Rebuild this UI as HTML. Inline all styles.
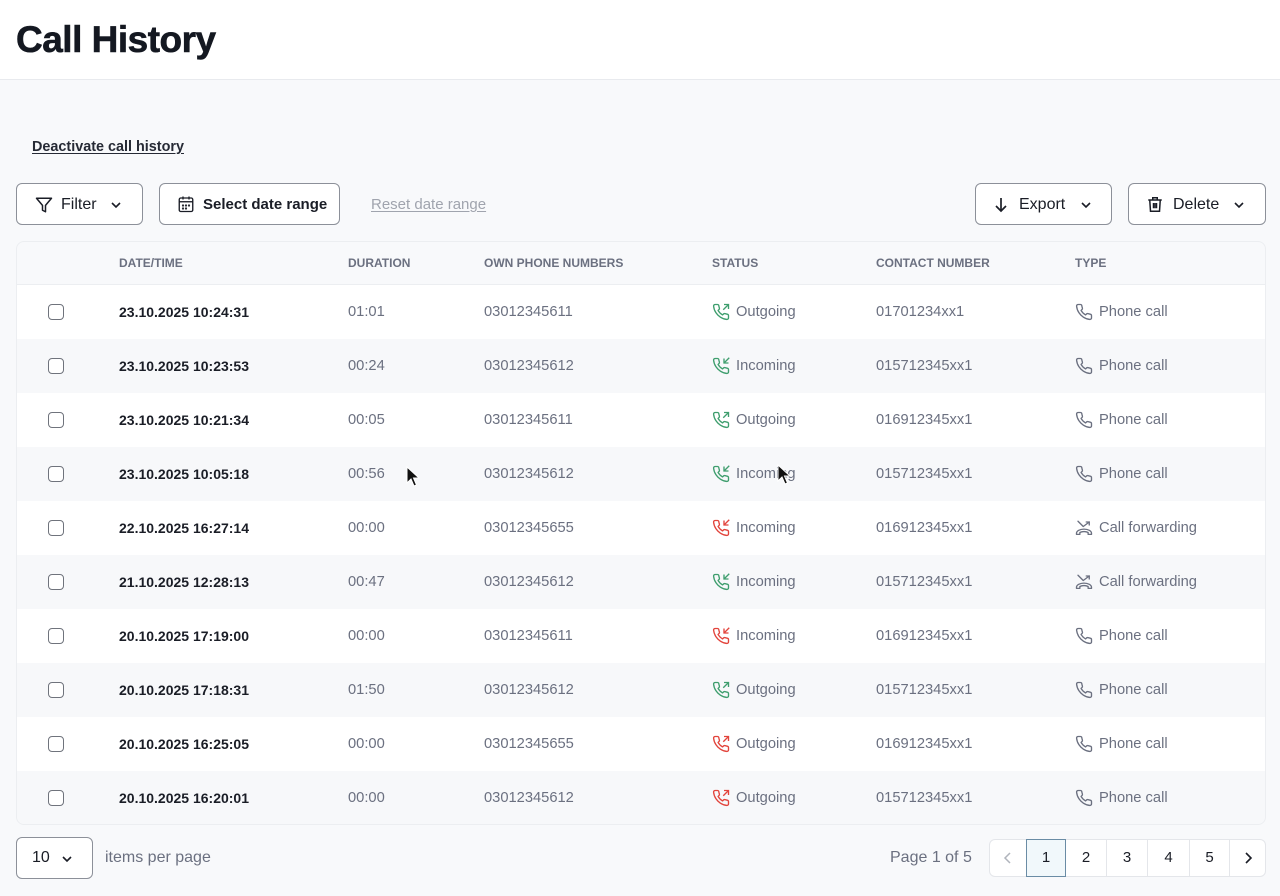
<!DOCTYPE html>
<html><head><meta charset="utf-8">
<style>
*{box-sizing:border-box;margin:0;padding:0}
body{width:1280px;height:896px;background:#f8f9fb;font-family:"Liberation Sans",sans-serif;position:relative;overflow:hidden;color:#1a1d26}
.hdr{position:absolute;left:0;top:0;width:1280px;height:80px;background:#fff;border-bottom:1px solid #e8eaee}
.title{position:absolute;left:16px;top:19px;font-size:37px;font-weight:bold;letter-spacing:-0.5px;color:#141821;-webkit-text-stroke:0.6px #141821}
.link{position:absolute;left:32px;top:139px;font-size:14.4px;font-weight:bold;color:#262a35;text-decoration:underline;text-underline-offset:2px}
.btn{position:absolute;top:183px;height:42px;background:#fff;border:1px solid #8c9099;border-radius:6px;font-size:16px;color:#1a1d26}
.btn svg{position:absolute}
.btn span{position:absolute;top:12px}
.reset{position:absolute;left:371px;top:196px;font-size:15px;color:#a0a4ae;text-decoration:underline;text-underline-offset:2px}
.card{position:absolute;left:16px;top:241px;width:1250px;height:584px;border:1px solid #eceef1;border-radius:8px;background:#f8f9fb;overflow:hidden}
.th{position:absolute;top:256px;font-size:12px;font-weight:bold;color:#6b7080}
.row{position:absolute;left:17px;width:1248px;height:54px}
.row.w{background:#fff}
.row.g{background:#f7f8fa}
.cb{position:absolute;left:31px;top:19px;width:16px;height:16px;border:1.5px solid #6f737c;border-radius:4px;background:#fff}
.c{position:absolute;top:19px;font-size:14.7px;color:#6b7080}
.d{font-weight:bold;color:#1a1d26;font-size:14px;top:19px}
.ic{position:absolute;top:18px}
.sel{position:absolute;left:16px;top:837px;width:77px;height:42px;background:#fff;border:1px solid #8c9099;border-radius:6px}
.pg{position:absolute;left:989px;top:839px;width:277px;height:38px;background:#fff;border:1px solid #e4e6ea;border-radius:6px}
.pc{position:absolute;top:0;height:36px;border-left:1px solid #e4e6ea;font-size:15px;color:#1a1d26;text-align:center;line-height:36px}
.gr{stroke:#3f9e6e}.rd{stroke:#e2443c}.gy{stroke:#6b7080}
</style></head><body>
<div class="hdr"><div class="title">Call History</div></div>
<div class="link">Deactivate call history</div>

<div class="btn" style="left:16px;width:127px">
<svg style="left:18px;top:12px" width="18" height="18" viewBox="0 0 24 24" fill="none" stroke="#1a1d26" stroke-width="2" stroke-linejoin="round"><polygon points="22 3 2 3 10 12.46 10 19 14 21 14 12.46 22 3"/></svg>
<span style="left:44px">Filter</span>
<svg style="left:93px;top:15px" width="12" height="12" viewBox="0 0 12 12" fill="none" stroke="#1a1d26" stroke-width="1.6"><polyline points="2 4 6 8 10 4"/></svg>
</div>
<div class="btn" style="left:159px;width:181px">
<svg style="left:17px;top:11px" width="18" height="18" viewBox="0 0 24 24" fill="none" stroke="#1a1d26" stroke-width="1.8"><rect x="3" y="4" width="18" height="18" rx="2"/><line x1="8" y1="2" x2="8" y2="6"/><line x1="16" y1="2" x2="16" y2="6"/><line x1="3" y1="9" x2="21" y2="9"/><circle cx="8" cy="14" r=".6"/><circle cx="12" cy="14" r=".6"/><circle cx="16" cy="14" r=".6"/><circle cx="8" cy="18" r=".6"/><circle cx="12" cy="18" r=".6"/></svg>
<span style="left:43px;font-size:15px;font-weight:bold;top:12px">Select date range</span>
</div>
<div class="reset">Reset date range</div>

<div class="btn" style="left:975px;width:137px">
<svg style="left:17px;top:12px" width="16" height="18" viewBox="0 0 16 18" fill="none" stroke="#1a1d26" stroke-width="1.7"><line x1="8" y1="2" x2="8" y2="15"/><polyline points="3 10 8 15 13 10"/></svg>
<span style="left:43px">Export</span>
<svg style="left:104px;top:15px" width="12" height="12" viewBox="0 0 12 12" fill="none" stroke="#1a1d26" stroke-width="1.6"><polyline points="2 4 6 8 10 4"/></svg>
</div>
<div class="btn" style="left:1128px;width:138px">
<svg style="left:17px;top:11px" width="18" height="19" viewBox="0 0 24 24" fill="none" stroke="#1a1d26" stroke-width="2"><path d="M3 6h18"/><path d="M9 6V3h6v3"/><path d="M5 6l1 15h12l1-15"/><line x1="10" y1="10" x2="10" y2="17"/><line x1="14" y1="10" x2="14" y2="17"/><line x1="12" y1="10" x2="12" y2="17"/></svg>
<span style="left:44px">Delete</span>
<svg style="left:104px;top:15px" width="12" height="12" viewBox="0 0 12 12" fill="none" stroke="#1a1d26" stroke-width="1.6"><polyline points="2 4 6 8 10 4"/></svg>
</div>

<div class="card"></div>
<div style="position:absolute;left:17px;top:284px;width:1248px;height:1px;background:#eceef1"></div>
<div class="th" style="left:119px">DATE/TIME</div>
<div class="th" style="left:348px">DURATION</div>
<div class="th" style="left:484px">OWN PHONE NUMBERS</div>
<div class="th" style="left:712px">STATUS</div>
<div class="th" style="left:876px">CONTACT NUMBER</div>
<div class="th" style="left:1075px">TYPE</div>

<svg width="0" height="0" style="position:absolute">
<defs>
<symbol id="ph" viewBox="0 0 24 24"><path fill="none" stroke-width="1.8" stroke-linejoin="round" d="M22 16.92v3a2 2 0 0 1-2.18 2 19.79 19.79 0 0 1-8.63-3.070 19.5 19.5 0 0 1-6-6 19.79 19.79 0 0 1-3.07-8.67A2 2 0 0 1 4.11 2h3a2 2 0 0 1 2 1.72 12.84 12.84 0 0 0 .7 2.81 2 2 0 0 1-.45 2.11L8.09 9.91a16 16 0 0 0 6 6l1.27-1.27a2 2 0 0 1 2.11-.45 12.84 12.84 0 0 0 2.81.7A2 2 0 0 1 22 16.92z"/></symbol>
<symbol id="out" viewBox="0 0 24 24"><use href="#ph"/><g fill="none" stroke-width="1.8"><polyline points="16 2 22 2 22 8"/><line x1="15" y1="9" x2="22" y2="2"/></g></symbol>
<symbol id="in" viewBox="0 0 24 24"><use href="#ph"/><g fill="none" stroke-width="1.8"><polyline points="16 2 16 8 22 8"/><line x1="23" y1="1" x2="16" y2="8"/></g></symbol>
<symbol id="fw" viewBox="0 0 24 24"><g fill="none" stroke-width="1.8" stroke-linejoin="round" stroke-linecap="round"><polyline points="4 3 11 10 19 4"/><polyline points="15 4 19 4 19 8"/><path d="M2 19c0-3 4.5-5.5 10-5.5s10 2.5 10 5.5v1.5h-4.5v-2.5c-1.5-.8-3.5-1.2-5.5-1.2s-4 .4-5.5 1.2v2.5H2z"/></g></symbol>
</defs>
</svg>

<div class="row w" style="top:285px"><div class="cb"></div><div class="c d" style="left:102px">23.10.2025 10:24:31</div><div class="c" style="left:331px">01:01</div><div class="c" style="left:467px">03012345611</div><svg class="ic gr" style="left:695px" width="18" height="18"><use href="#out"/></svg><div class="c" style="left:719px">Outgoing</div><div class="c" style="left:859px">01701234xx1</div><svg class="ic gy" style="left:1058px" width="18" height="18"><use href="#ph"/></svg><div class="c" style="left:1082px">Phone call</div></div>

<div class="row g" style="top:339px"><div class="cb"></div><div class="c d" style="left:102px">23.10.2025 10:23:53</div><div class="c" style="left:331px">00:24</div><div class="c" style="left:467px">03012345612</div><svg class="ic gr" style="left:695px" width="18" height="18"><use href="#in"/></svg><div class="c" style="left:719px">Incoming</div><div class="c" style="left:859px">015712345xx1</div><svg class="ic gy" style="left:1058px" width="18" height="18"><use href="#ph"/></svg><div class="c" style="left:1082px">Phone call</div></div>

<div class="row w" style="top:393px"><div class="cb"></div><div class="c d" style="left:102px">23.10.2025 10:21:34</div><div class="c" style="left:331px">00:05</div><div class="c" style="left:467px">03012345611</div><svg class="ic gr" style="left:695px" width="18" height="18"><use href="#out"/></svg><div class="c" style="left:719px">Outgoing</div><div class="c" style="left:859px">016912345xx1</div><svg class="ic gy" style="left:1058px" width="18" height="18"><use href="#ph"/></svg><div class="c" style="left:1082px">Phone call</div></div>

<div class="row g" style="top:447px"><div class="cb"></div><div class="c d" style="left:102px">23.10.2025 10:05:18</div><div class="c" style="left:331px">00:56</div><div class="c" style="left:467px">03012345612</div><svg class="ic gr" style="left:695px" width="18" height="18"><use href="#in"/></svg><div class="c" style="left:719px">Incoming</div><div class="c" style="left:859px">015712345xx1</div><svg class="ic gy" style="left:1058px" width="18" height="18"><use href="#ph"/></svg><div class="c" style="left:1082px">Phone call</div></div>

<div class="row w" style="top:501px"><div class="cb"></div><div class="c d" style="left:102px">22.10.2025 16:27:14</div><div class="c" style="left:331px">00:00</div><div class="c" style="left:467px">03012345655</div><svg class="ic rd" style="left:695px" width="18" height="18"><use href="#in"/></svg><div class="c" style="left:719px">Incoming</div><div class="c" style="left:859px">016912345xx1</div><svg class="ic gy" style="left:1058px" width="18" height="18"><use href="#fw"/></svg><div class="c" style="left:1082px">Call forwarding</div></div>

<div class="row g" style="top:555px"><div class="cb"></div><div class="c d" style="left:102px">21.10.2025 12:28:13</div><div class="c" style="left:331px">00:47</div><div class="c" style="left:467px">03012345612</div><svg class="ic gr" style="left:695px" width="18" height="18"><use href="#in"/></svg><div class="c" style="left:719px">Incoming</div><div class="c" style="left:859px">015712345xx1</div><svg class="ic gy" style="left:1058px" width="18" height="18"><use href="#fw"/></svg><div class="c" style="left:1082px">Call forwarding</div></div>

<div class="row w" style="top:609px"><div class="cb"></div><div class="c d" style="left:102px">20.10.2025 17:19:00</div><div class="c" style="left:331px">00:00</div><div class="c" style="left:467px">03012345611</div><svg class="ic rd" style="left:695px" width="18" height="18"><use href="#in"/></svg><div class="c" style="left:719px">Incoming</div><div class="c" style="left:859px">016912345xx1</div><svg class="ic gy" style="left:1058px" width="18" height="18"><use href="#ph"/></svg><div class="c" style="left:1082px">Phone call</div></div>

<div class="row g" style="top:663px"><div class="cb"></div><div class="c d" style="left:102px">20.10.2025 17:18:31</div><div class="c" style="left:331px">01:50</div><div class="c" style="left:467px">03012345612</div><svg class="ic gr" style="left:695px" width="18" height="18"><use href="#out"/></svg><div class="c" style="left:719px">Outgoing</div><div class="c" style="left:859px">015712345xx1</div><svg class="ic gy" style="left:1058px" width="18" height="18"><use href="#ph"/></svg><div class="c" style="left:1082px">Phone call</div></div>

<div class="row w" style="top:717px"><div class="cb"></div><div class="c d" style="left:102px">20.10.2025 16:25:05</div><div class="c" style="left:331px">00:00</div><div class="c" style="left:467px">03012345655</div><svg class="ic rd" style="left:695px" width="18" height="18"><use href="#out"/></svg><div class="c" style="left:719px">Outgoing</div><div class="c" style="left:859px">016912345xx1</div><svg class="ic gy" style="left:1058px" width="18" height="18"><use href="#ph"/></svg><div class="c" style="left:1082px">Phone call</div></div>

<div class="row g" style="top:771px;height:53px;border-radius:0 0 8px 8px"><div class="cb"></div><div class="c d" style="left:102px">20.10.2025 16:20:01</div><div class="c" style="left:331px">00:00</div><div class="c" style="left:467px">03012345612</div><svg class="ic rd" style="left:695px" width="18" height="18"><use href="#out"/></svg><div class="c" style="left:719px">Outgoing</div><div class="c" style="left:859px">015712345xx1</div><svg class="ic gy" style="left:1058px" width="18" height="18"><use href="#ph"/></svg><div class="c" style="left:1082px">Phone call</div></div>

<div class="sel"><span style="position:absolute;left:15px;top:11px;font-size:16px">10</span>
<svg style="position:absolute;left:44px;top:15px" width="12" height="12" viewBox="0 0 12 12" fill="none" stroke="#1a1d26" stroke-width="1.6"><polyline points="2 4 6 8 10 4"/></svg></div>
<div style="position:absolute;left:105px;top:849px;font-size:16px;color:#6b7080">items per page</div>
<div style="position:absolute;left:890px;top:849px;font-size:16px;color:#6b7080">Page 1 of 5</div>
<div class="pg">
<div class="pc" style="left:0;width:36px;border-left:none"><svg style="margin-top:12px" width="12" height="12" viewBox="0 0 12 12" fill="none" stroke="#b0b4bc" stroke-width="1.5"><polyline points="8 1 3 6 8 11"/></svg></div>
<div class="pc" style="left:36px;width:40px;background:#f1f8fb;border:1.5px solid #6a8ca5;top:-1px;height:38px;line-height:36px">1</div>
<div class="pc" style="left:76px;width:40px;border-left:none">2</div>
<div class="pc" style="left:116px;width:41px">3</div>
<div class="pc" style="left:157px;width:42px">4</div>
<div class="pc" style="left:199px;width:40px">5</div>
<div class="pc" style="left:239px;width:37px"><svg style="margin-top:12px" width="12" height="12" viewBox="0 0 12 12" fill="none" stroke="#1a1d26" stroke-width="1.6"><polyline points="4 1 9 6 4 11"/></svg></div>
</div>

<svg style="position:absolute;left:406px;top:466px" width="14" height="22" viewBox="0 0 14 22"><path d="M1 1v16l4-4 3 7 2.5-1-3-7h5.5z" fill="#111" stroke="#fff" stroke-width="1"/></svg>
<svg style="position:absolute;left:777px;top:464px" width="14" height="22" viewBox="0 0 14 22"><path d="M1 1v16l4-4 3 7 2.5-1-3-7h5.5z" fill="#111" stroke="#fff" stroke-width="1"/></svg>
</body></html>
